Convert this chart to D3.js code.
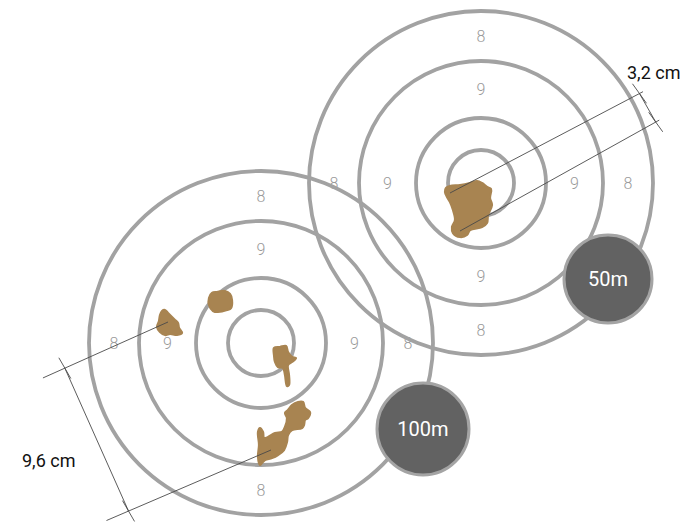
<!DOCTYPE html>
<html>
<head>
<meta charset="utf-8">
<script src="https://cdn.jsdelivr.net/npm/d3@7/dist/d3.min.js"></script>
<style>
  html, body { margin: 0; padding: 0; background: #fff; }
  svg { display: block; }
</style>
</head>
<body>
<script>
// ---------------- data ----------------
const targetNames   = ["100m", "50m"];
const targetCenters = [[261, 343], [481, 183]];      // page position of each target
const ringRadii     = [33, 65, 122, 172];             // ring radii (target units)
const ringScores    = [9, 8];                         // score written in the two outer bands
const labelDirs     = ["top", "left", "right", "bottom"];
const hiddenLabels  = [["bottom", 9]];                // 100m: bottom "9" covered by a shot
const badgeOffsets  = [[162, 86], [127, 96]];         // badge centre relative to target
const badgeRadii    = [46, 44];

// shot outlines (target units, relative to target centre)
const shots100 = [
  [[-99,-32],[-96,-33],[-93,-30],[-89,-26],[-86,-23],[-83,-20],[-82,-15],[-79,-10],[-84,-8],[-91,-9],[-96,-8],[-101,-11],[-104,-16],[-102,-22],[-101,-28]],
  [[-49,-50],[-44,-51],[-36,-52],[-31,-49],[-29,-43],[-30,-35],[-34,-33],[-43,-31],[-48,-32],[-52,-38],[-52,-45]],
  [[13,5],[19,4],[25,3],[27,9],[31,14],[35,15],[31,19],[27,22],[28,32],[28,42],[26,43],[24,32],[22,25],[17,24],[14,19],[13,12]],
  [[31,62],[37,59],[42,59],[44,65],[49,69],[47,75],[44,77],[43,82],[41,85],[31,87],[27,92],[26,99],[23,107],[17,112],[11,115],[4,117],[1,120],[-1,122],[-3,114],[-2,102],[-3,89],[-1,85],[2,89],[3,95],[7,94],[14,90],[21,89],[24,84],[26,75],[24,70],[27,67]]
];
const shots50 = [
  [[-35,5],[-31,3],[-21,2],[-11,0],[-4,-2],[1,0],[6,4],[10,6],[9,15],[11,22],[7,32],[6,40],[1,44],[-11,47],[-14,52],[-21,54],[-28,50],[-29,44],[-26,37],[-28,27],[-31,19],[-34,14],[-36,9]]
];
const shotSets = [shots100, shots50];

// group-size measurements: two extension lines (anchor, angle deg, length, overshoot)
const dimLabels = ["9,6 cm", "3,2 cm"];
const dimLines = [
  [{ anchor: [-93, -21], angle: 155.9, length: 113, over: 24 },
   { anchor: [10, 107],  angle: 156.8, length: 155, over: 24 }],
  [{ anchor: [-31, 10],  angle: -27.7, length: 214, over: 4 },
   { anchor: [-21, 48],  angle: -29.1, length: 224, over: 4 }]
];
const dimLabelPos = [[22, 467], [627, 79]];

// ---------------- drawing ----------------
const W = 685, H = 522;
const svg = d3.select("body").append("svg").attr("width", W).attr("height", H);

const ringColor = "#a2a2a2";
const shotColor = "#a88451";
const textGray  = "#9a9a9a";

// per-target scales (target units -> page pixels)
const scales = targetCenters.map(c => ({
  x: d3.scaleLinear().domain([-200, 200]).range([c[0] - 200, c[0] + 200]),
  y: d3.scaleLinear().domain([-200, 200]).range([c[1] - 200, c[1] + 200]),
  r: d3.scaleLinear().domain([0, 200]).range([0, 200])
}));

const gLabels = svg.append("g");
const gRings  = svg.append("g");
const gShots  = svg.append("g");
const gDims   = svg.append("g");
const gBadges = svg.append("g");

targetNames.forEach((name, ti) => {
  const s = scales[ti];
  // ring labels at band middles
  const bandMid = [(ringRadii[1] + ringRadii[2]) / 2, (ringRadii[2] + ringRadii[3]) / 2];
  const lab = [];
  labelDirs.forEach(dir => {
    ringScores.forEach((score, bi) => {
      if (ti === 0 && hiddenLabels.some(h => h[0] === dir && h[1] === score)) return;
      const r = bandMid[bi];
      const v = { top: [0, -1], bottom: [0, 1], left: [-1, 0], right: [1, 0] }[dir];
      lab.push({ score, x: v[0] * r, y: v[1] * r });
    });
  });
  gLabels.selectAll(null).data(lab).enter().append("text")
    .attr("x", d => s.x(d.x)).attr("y", d => s.y(d.y))
    .attr("text-anchor", "middle").attr("dy", "0.36em")
    .attr("font-family", "Roboto, 'DejaVu Sans', sans-serif")
    .attr("font-weight", 300).attr("font-size", 16)
    .attr("fill", textGray).text(d => d.score);

  gRings.selectAll(null).data(ringRadii).enter().append("circle")
    .attr("cx", s.x(0)).attr("cy", s.y(0)).attr("r", d => s.r(d))
    .attr("fill", "none").attr("stroke", ringColor).attr("stroke-width", 3.8);

  const line = d3.line().x(p => s.x(p[0])).y(p => s.y(p[1])).curve(d3.curveCatmullRomClosed.alpha(0.5));
  gShots.selectAll(null).data(shotSets[ti]).enter().append("path")
    .attr("d", line).attr("fill", shotColor)
    .attr("stroke", shotColor).attr("stroke-width", 2.2).attr("stroke-linejoin", "round");

  // dimension lines
  const ends = [];
  dimLines[ti].forEach(dl => {
    const a = dl.angle * Math.PI / 180;
    const ux = Math.cos(a), uy = Math.sin(a);
    const x0 = s.x(dl.anchor[0]), y0 = s.y(dl.anchor[1]);
    const ex = x0 + ux * dl.length, ey = y0 + uy * dl.length;
    ends.push([ex, ey]);
    gDims.append("line")
      .attr("x1", x0).attr("y1", y0)
      .attr("x2", ex + ux * dl.over).attr("y2", ey + uy * dl.over)
      .attr("stroke", "#4a4a4a").attr("stroke-width", 0.9);
  });
  const [p, q] = ends;
  gDims.append("line").attr("x1", p[0]).attr("y1", p[1]).attr("x2", q[0]).attr("y2", q[1])
    .attr("stroke", "#4a4a4a").attr("stroke-width", 0.9);
  const da = Math.atan2(q[1] - p[1], q[0] - p[0]) - 6 * Math.PI / 180;
  ends.forEach(e => {
    gDims.append("line")
      .attr("x1", e[0] - Math.cos(da) * 12).attr("y1", e[1] - Math.sin(da) * 12)
      .attr("x2", e[0] + Math.cos(da) * 12).attr("y2", e[1] + Math.sin(da) * 12)
      .attr("stroke", "#4a4a4a").attr("stroke-width", 0.9);
  });
  gDims.append("text")
    .attr("x", dimLabelPos[ti][0]).attr("y", dimLabelPos[ti][1])
    .attr("font-family", "Roboto, 'DejaVu Sans', sans-serif")
    .attr("font-size", 18).attr("fill", "#111").text(dimLabels[ti]);

  // badge
  const bx = s.x(badgeOffsets[ti][0]), by = s.y(badgeOffsets[ti][1]);
  gBadges.append("circle").attr("cx", bx).attr("cy", by).attr("r", badgeRadii[ti])
    .attr("fill", "#626262").attr("stroke", "#a4a4a4").attr("stroke-width", 3);
  gBadges.append("text").attr("x", bx).attr("y", by).attr("dy", "0.36em")
    .attr("text-anchor", "middle")
    .attr("font-family", "Roboto, 'DejaVu Sans', sans-serif")
    .attr("font-size", 20).attr("fill", "#fff").text(name);
});
</script>
</body>
</html>
